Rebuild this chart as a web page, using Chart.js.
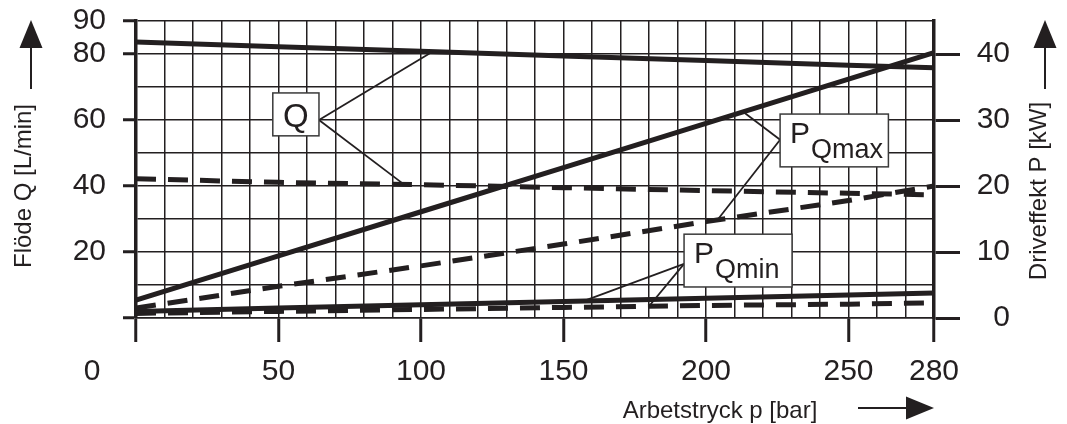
<!DOCTYPE html>
<html>
<head>
<meta charset="utf-8">
<script src="https://cdn.jsdelivr.net/npm/chart.js@4.4.1/dist/chart.umd.min.js"></script>
<style>
  html, body { margin: 0; padding: 0; background: #fff; }
</style>
</head>
<body>
<canvas id="grafico" width="1067" height="424"></canvas>
<script>
const mork = "#231f20";
const typsnitt = "'Liberation Sans', Arial, sans-serif";

// tryck p [bar]
const tryck = [0, 50, 100, 150, 200, 250, 280];

// flöde Q [L/min] (vänster axel)
const qHel    = [83.6, 82.2, 80.8, 79.4, 78.0, 76.6, 75.8];
const qStreck = [42.2, 41.1, 40.4, 39.5, 38.6, 37.8, 37.3];

// drifteffekt P [kW] (höger axel)
const pMaxHel    = [2.7, 9.4, 16.1, 22.8, 29.5, 36.2, 40.2];
const pMaxStreck = [1.5, 4.8, 7.9, 11.2, 14.6, 17.8, 20.0];
const pMinHel    = [1.0, 1.5, 2.0, 2.5, 3.0, 3.5, 3.8];
const pMinStreck = [0.7, 1.0, 1.3, 1.6, 1.9, 2.1, 2.3];

// axeletiketter
const xEtiketter = [50, 100, 150, 200, 250, 280];
const xStreck = [0, 50, 100, 150, 200, 250, 280];
const yVansterEtiketter = [20, 40, 60, 80, 90];
const yVansterStreck = [0, 20, 40, 60, 80, 90];
const yHogerEtiketter = [0, 10, 20, 30, 40];

function punkter(serie) {
  return tryck.map((p, i) => ({ x: p, y: serie[i] }));
}

// värde på en serie vid ett visst tryck (för hänvisningslinjerna)
function varde(serie, p) {
  for (let i = 0; i < tryck.length - 1; i++) {
    if (p <= tryck[i + 1]) {
      const t = (p - tryck[i]) / (tryck[i + 1] - tryck[i]);
      return serie[i] + t * (serie[i + 1] - serie[i]);
    }
  }
  return serie[serie.length - 1];
}

// etikettrutor med hänvisningslinjer, i axelns enheter
const rutor = [
  { text: "Q", sub: "", axel: "y", x0: 48, x1: 64.2, yTopp: 68.2, yBotten: 55.2,
    fran: { x: 64.2, y: 60 }, till: [[qHel, 104], [qStreck, 94]] },
  { text: "P", sub: "Qmax", axel: "y1", x0: 226, x1: 264, yTopp: 30.9, yBotten: 22.9,
    fran: { x: 226, y: 27 }, till: [[pMaxHel, 213], [pMaxStreck, 204]] },
  { text: "P", sub: "Qmin", axel: "y1", x0: 192.3, x1: 230.2, yTopp: 12.7, yBotten: 4.7,
    fran: { x: 192.3, y: 8.2 }, till: [[pMinHel, 157], [pMinStreck, 180]] }
];

function pil(ctx, x1, y1, x2, y2) {
  // skaft + fylld pilspets mot (x2, y2)
  const vinkel = Math.atan2(y2 - y1, x2 - x1);
  const langd = 28, halv = 11.5;
  const bx = x2 - langd * Math.cos(vinkel), by = y2 - langd * Math.sin(vinkel);
  ctx.lineWidth = 2;
  ctx.beginPath();
  ctx.moveTo(x1, y1);
  ctx.lineTo(bx, by);
  ctx.stroke();
  ctx.beginPath();
  ctx.moveTo(x2, y2);
  ctx.lineTo(bx + halv * Math.sin(vinkel), by - halv * Math.cos(vinkel));
  ctx.lineTo(bx - halv * Math.sin(vinkel), by + halv * Math.cos(vinkel));
  ctx.closePath();
  ctx.fill();
}

const ritning = {
  id: "ritning",
  afterDatasetsDraw(chart) {
    const ctx = chart.ctx;
    const xs = chart.scales.x;
    const area = chart.chartArea;
    ctx.save();
    ctx.strokeStyle = mork;
    ctx.fillStyle = mork;

    // hänvisningslinjer och rutor
    rutor.forEach(r => {
      const ys = chart.scales[r.axel];
      const fx = xs.getPixelForValue(r.fran.x);
      const fy = ys.getPixelForValue(r.fran.y);
      ctx.lineWidth = 1.8;
      r.till.forEach(([serie, p]) => {
        ctx.beginPath();
        ctx.moveTo(fx, fy);
        ctx.lineTo(xs.getPixelForValue(p), ys.getPixelForValue(varde(serie, p)));
        ctx.stroke();
      });
      const x0 = xs.getPixelForValue(r.x0), x1 = xs.getPixelForValue(r.x1);
      const y0 = ys.getPixelForValue(r.yTopp), y1 = ys.getPixelForValue(r.yBotten);
      ctx.fillStyle = "#fff";
      ctx.fillRect(x0, y0, x1 - x0, y1 - y0);
      ctx.lineWidth = 1.5;
      ctx.strokeStyle = "#3a3a3a";
      ctx.strokeRect(x0, y0, x1 - x0, y1 - y0);
      ctx.strokeStyle = mork;
      ctx.fillStyle = mork;
      ctx.textBaseline = "alphabetic";
      if (!r.sub) {
        ctx.font = "33px " + typsnitt;
        ctx.textAlign = "center";
        ctx.fillText(r.text, (x0 + x1) / 2, y1 - 9);
      } else {
        ctx.font = "30px " + typsnitt;
        ctx.textAlign = "left";
        ctx.fillText(r.text, x0 + 10, y0 + 29);
        const b = ctx.measureText(r.text).width;
        ctx.font = "27px " + typsnitt;
        ctx.fillText(r.sub, x0 + 10 + b + 1, y0 + 44);
      }
    });

    // "0" vid origo, förskjuten åt vänster
    ctx.font = "30px " + typsnitt;
    ctx.textAlign = "center";
    ctx.textBaseline = "middle";
    ctx.fillText("0", xs.getPixelForValue(0) - 44, area.bottom + 54);

    // axeltitlar
    ctx.font = "24px " + typsnitt;
    ctx.textBaseline = "alphabetic";
    ctx.save();
    ctx.translate(31, 186);
    ctx.rotate(-Math.PI / 2);
    ctx.fillText("Flöde Q [L/min]", 0, 0);
    ctx.restore();
    ctx.save();
    ctx.translate(1046, 191);
    ctx.rotate(-Math.PI / 2);
    ctx.fillText("Driveffekt P [kW]", 0, 0);
    ctx.restore();
    ctx.fillText("Arbetstryck p [bar]", 720, 418);

    // pilar
    pil(ctx, 31, 89, 31, 20);
    pil(ctx, 1045, 89, 1045, 20);
    pil(ctx, 858, 408, area.right, 408);

    ctx.restore();
  }
};

// axlarnas egna marginaler för etiketter ska inte flytta ritytan
function nollaMarginal(s) {
  s.paddingTop = 0;
  s.paddingBottom = 0;
  s.paddingLeft = 0;
  s.paddingRight = 0;
}

const heldrag = { borderColor: mork, borderWidth: 5, pointRadius: 0, tension: 0, fill: false };
const streckat = { borderColor: mork, borderWidth: 5, borderDash: [20, 12], pointRadius: 0, tension: 0, fill: false };

new Chart(document.getElementById("grafico"), {
  type: "line",
  data: {
    datasets: [
      Object.assign({ label: "Q", data: punkter(qHel), yAxisID: "y" }, heldrag),
      Object.assign({ label: "Q streckad", data: punkter(qStreck), yAxisID: "y" }, streckat),
      Object.assign({ label: "PQmax", data: punkter(pMaxHel), yAxisID: "y1" }, heldrag),
      Object.assign({ label: "PQmax streckad", data: punkter(pMaxStreck), yAxisID: "y1" }, streckat),
      Object.assign({ label: "PQmin", data: punkter(pMinHel), yAxisID: "y1" }, heldrag),
      Object.assign({ label: "PQmin streckad", data: punkter(pMinStreck), yAxisID: "y1" }, streckat)
    ]
  },
  options: {
    responsive: false,
    animation: false,
    layout: { padding: { top: 21, left: 0, right: 57, bottom: 0 } },
    plugins: { legend: { display: false }, tooltip: { enabled: false } },
    scales: {
      x: {
        type: "linear", min: 0, max: 280,
        afterFit: s => { s.height = 106; nollaMarginal(s); },
        ticks: {
          stepSize: 10, autoSkip: false, maxRotation: 0, padding: 12,
          color: mork, font: { size: 30, family: typsnitt },
          callback: v => xEtiketter.includes(v) ? String(v) : ""
        },
        grid: {
          color: mork, lineWidth: 1.5, tickLength: 24, tickWidth: 3,
          tickColor: c => xStreck.includes(c.tick.value) ? mork : "rgba(0,0,0,0)"
        },
        border: { color: mork, width: 1.5 }
      },
      y: {
        position: "left", min: 0, max: 90,
        afterFit: s => { s.width = 136; nollaMarginal(s); },
        ticks: {
          stepSize: 10, autoSkip: false, padding: 17,
          color: mork, font: { size: 30, family: typsnitt },
          callback: v => yVansterEtiketter.includes(v) ? String(v) : ""
        },
        grid: {
          color: mork, lineWidth: 1.5, tickLength: 13, tickWidth: 3,
          tickColor: c => yVansterStreck.includes(c.tick.value) ? mork : "rgba(0,0,0,0)"
        },
        border: { color: mork, width: 3.5 }
      },
      y1: {
        position: "right", min: 0, max: 45,
        afterFit: s => { s.width = 76; nollaMarginal(s); },
        ticks: {
          stepSize: 5, autoSkip: false, padding: 16, crossAlign: "far",
          color: mork, font: { size: 30, family: typsnitt },
          callback: v => yHogerEtiketter.includes(v) ? String(v) : ""
        },
        grid: {
          drawOnChartArea: false, color: mork, tickLength: 26, tickWidth: 3,
          tickColor: c => yHogerEtiketter.includes(c.tick.value) ? mork : "rgba(0,0,0,0)"
        },
        border: { color: mork, width: 3.5 }
      }
    }
  },
  plugins: [ritning]
});
</script>
</body>
</html>
